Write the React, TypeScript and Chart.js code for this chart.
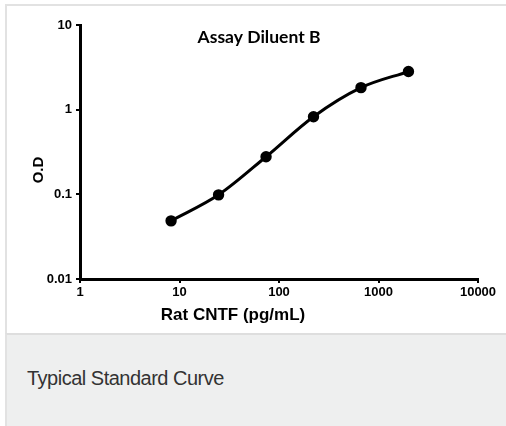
import React, { useEffect, useRef } from "react";
import { Chart, registerables } from "chart.js";

Chart.register(...registerables);

const concentrations = [8.23, 24.7, 74.1, 222.2, 666.7, 2000];
const odValues = [0.0486, 0.0986, 0.278, 0.826, 1.82, 2.82];
const xTickValues = [1, 10, 100, 1000, 10000];
const yTickValues = [0.01, 0.1, 1, 10];
const chartTitle = "Assay Diluent B";
const xTitle = "Rat CNTF (pg/mL)";
const yTitle = "O.D";
const caption = "Typical Standard Curve";

const textPlugin = {
  id: "customText",
  afterDraw(chart: any) {
    const ctx = chart.ctx;
    ctx.save();
    ctx.fillStyle = "#000";
    ctx.textAlign = "center";
    ctx.textBaseline = "middle";
    ctx.font = "bold 17.5px Lato";
    ctx.fillText(chartTitle, 259, 37);
    ctx.font = "bold 17px 'Liberation Sans'";
    ctx.fillText(xTitle, 233, 315);
    ctx.translate(39, 170);
    ctx.rotate(-Math.PI / 2);
    ctx.font = "bold 15px 'Liberation Sans'";
    ctx.fillText(yTitle, 0, 0);
    ctx.restore();
  },
};

export default function App() {
  const ref = useRef<HTMLCanvasElement>(null);
  useEffect(() => {
    document.body.style.margin = "0";
    if (!ref.current) return;
    const tickFont = { family: "'Liberation Sans'", size: 13, weight: "bold" as const };
    const chart = new Chart(ref.current, {
      type: "scatter",
      data: {
        datasets: [
          {
            data: concentrations.map((c, i) => ({ x: c, y: odValues[i] })),
            showLine: true,
            borderColor: "#000",
            backgroundColor: "#000",
            borderWidth: 3,
            pointRadius: 4.2,
            pointHoverRadius: 4.2,
            tension: 0.4,
            cubicInterpolationMode: "monotone",
          },
        ],
      },
      options: {
        animation: false,
        responsive: false,
        devicePixelRatio: 1,
        layout: { padding: { top: 25, right: 28, left: 0, bottom: 0 } },
        plugins: { legend: { display: false }, tooltip: { enabled: false }, title: { display: false } },
        scales: {
          x: {
            type: "logarithmic",
            min: 1,
            max: 10000,
            afterBuildTicks: (s: any) => {
              s.ticks = xTickValues.map((v) => ({ value: v }));
            },
            afterFit: (s: any) => {
              s.height = 54;
            },
            ticks: {
              color: "#000",
              font: tickFont,
              padding: 2,
              maxRotation: 0,
              autoSkip: false,
              callback: (v: any) => String(v),
            },
            grid: { drawOnChartArea: false, drawTicks: true, tickLength: 4, color: "#000", lineWidth: 2 },
            border: { display: true, color: "#000", width: 3 },
          },
          y: {
            type: "logarithmic",
            min: 0.01,
            max: 10,
            afterBuildTicks: (s: any) => {
              s.ticks = yTickValues.map((v) => ({ value: v }));
            },
            afterFit: (s: any) => {
              s.width = 80;
            },
            ticks: {
              color: "#000",
              font: tickFont,
              padding: 4,
              autoSkip: false,
              callback: (v: any) => String(v),
            },
            grid: { drawOnChartArea: false, drawTicks: true, tickLength: 4, color: "#000", lineWidth: 2 },
            border: { display: true, color: "#000", width: 3 },
          },
        },
      },
      plugins: [textPlugin],
    });
    return () => chart.destroy();
  }, []);

  return (
    <div style={{ position: "absolute", left: 0, top: 0, width: 506, height: 426, background: "#fff", overflow: "hidden" }}>
      <div
        style={{
          position: "absolute",
          left: 5,
          top: 4,
          width: 520,
          height: 430,
          border: "2px solid #e2e2e2",
          boxSizing: "border-box",
        }}
      />
      <div
        style={{
          position: "absolute",
          left: 5,
          top: 333,
          width: 520,
          height: 100,
          background: "#eeefef",
          borderTop: "2px solid #dedede",
          borderLeft: "2px solid #e2e2e2",
          boxSizing: "border-box",
        }}
      />
      <div
        style={{
          position: "absolute",
          left: 27,
          top: 366,
          fontFamily: "'Liberation Sans', Arial, sans-serif",
          fontSize: 20,
          color: "#333",
          lineHeight: "24px",
          letterSpacing: "-0.5px",
        }}
      >
        {caption}
      </div>
      <canvas ref={ref} width={506} height={333} style={{ position: "absolute", left: 0, top: 0 }} />
    </div>
  );
}
